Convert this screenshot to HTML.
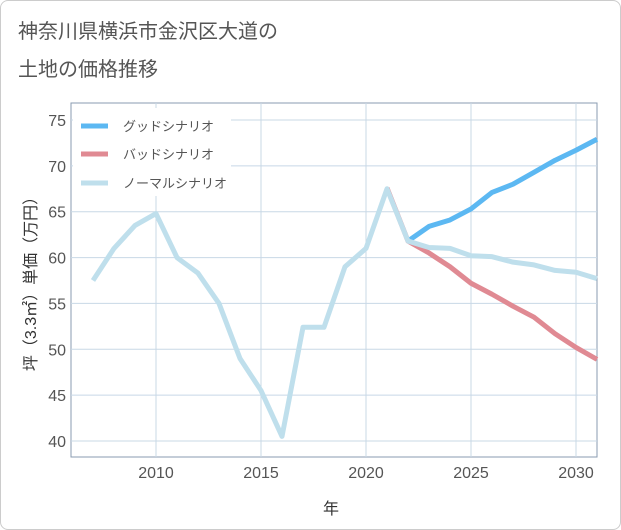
<!DOCTYPE html>
<html><head><meta charset="utf-8"><style>
body{margin:0;background:#fff;font-family:"Liberation Sans","Noto Sans CJK JP",sans-serif;}
.card{position:absolute;left:0;top:0;width:619px;height:528px;border:1px solid #ccc;border-radius:8px;background:#fff;}
</style></head><body>
<div class="card"></div>
<svg id="c" width="621" height="530" style="position:absolute;left:0;top:0">
<text x="18" y="38" font-size="20" fill="#555">神奈川県横浜市金沢区大道の</text>
<text x="18" y="76" font-size="20" fill="#555">土地の価格推移</text>
<g id="grid"></g><g id="lines"></g><g id="legend"></g>
<text x="331" y="514" font-size="16" fill="#333" text-anchor="middle">年</text>
<text transform="translate(36,280) rotate(-90)" font-size="16" fill="#333" text-anchor="middle">坪（3.3㎡）単価（万円）</text>
</svg>
<script>
const years=[2007,2008,2009,2010,2011,2012,2013,2014,2015,2016,2017,2018,2019,2020,2021,2022,2023,2024,2025,2026,2027,2028,2029,2030,2031];
const normal=[57.5,61,63.5,64.8,60,58.3,55,49,45.5,40.5,52.4,52.4,59,61,67.5,61.8,61.1,61,60.2,60.1,59.5,59.2,58.6,58.4,57.7];
const goodYears=[2022,2023,2024,2025,2026,2027,2028,2029,2030,2031];
const good=[61.8,63.4,64.1,65.3,67.1,68,69.3,70.6,71.7,72.9];
const badYears=[2021,2022,2023,2024,2025,2026,2027,2028,2029,2030,2031];
const bad=[67.6,61.8,60.5,59,57.2,56,54.7,53.5,51.7,50.2,48.9];
const xTicks=[2010,2015,2020,2025,2030];
const yTicks=[40,45,50,55,60,65,70,75];
const L=71,R=597,T=103,B=457;
const X=y=>156+(y-2010)*21.0;
const Y=v=>441-(v-40)*(321/35);
const NS='http://www.w3.org/2000/svg';
function mk(t,a,p){const e=document.createElementNS(NS,t);for(const k in a)e.setAttribute(k,a[k]);p.appendChild(e);return e;}
const g=document.getElementById('grid');
const frame=mk('rect',{x:L,y:T,width:R-L,height:B-T,fill:'none',stroke:'#8a9bb0','stroke-width':1},g);


xTicks.forEach(t=>{const l=mk('line',{x1:X(t),x2:X(t),y1:T,y2:B,stroke:'#c8d8e6'},g);


const tx=mk('text',{x:X(t),y:478,'font-size':16,fill:'#555','text-anchor':'middle'},g);tx.textContent=t;

});
yTicks.forEach(t=>{const l=mk('line',{x1:L,x2:R,y1:Y(t),y2:Y(t),stroke:'#c8d8e6'},g);


const tx=mk('text',{x:66,y:Y(t)+6,'font-size':16,fill:'#555','text-anchor':'end'},g);tx.textContent=t;

});
const ln=document.getElementById('lines');
function series(xs,vs,c,n){const p=mk('polyline',{points:xs.map((y,i)=>X(y)+','+Y(vs[i])).join(' '),fill:'none',stroke:c,'stroke-width':5,'stroke-linejoin':'round'},ln);

}
series(badYears,bad,'#e08a93','bad-scenario-line');
series(goodYears,good,'#5cb8f2','good-scenario-line');
series(years,normal,'#bfdfec','normal-scenario-line');
const lg=document.getElementById('legend');
const bg=mk('rect',{x:73,y:108,width:158,height:88,fill:'#fff'},lg);


[['グッドシナリオ','#5cb8f2',126],['バッドシナリオ','#e08a93',154],['ノーマルシナリオ','#bfdfec',183]].forEach((d,i)=>{
const l=mk('line',{x1:81,x2:108,y1:d[2],y2:d[2],stroke:d[1],'stroke-width':5},lg);


const t=mk('text',{x:123,y:d[2]+5,'font-size':13,fill:'#555'},lg);t.textContent=d[0];

});
</script>
</body></html>
